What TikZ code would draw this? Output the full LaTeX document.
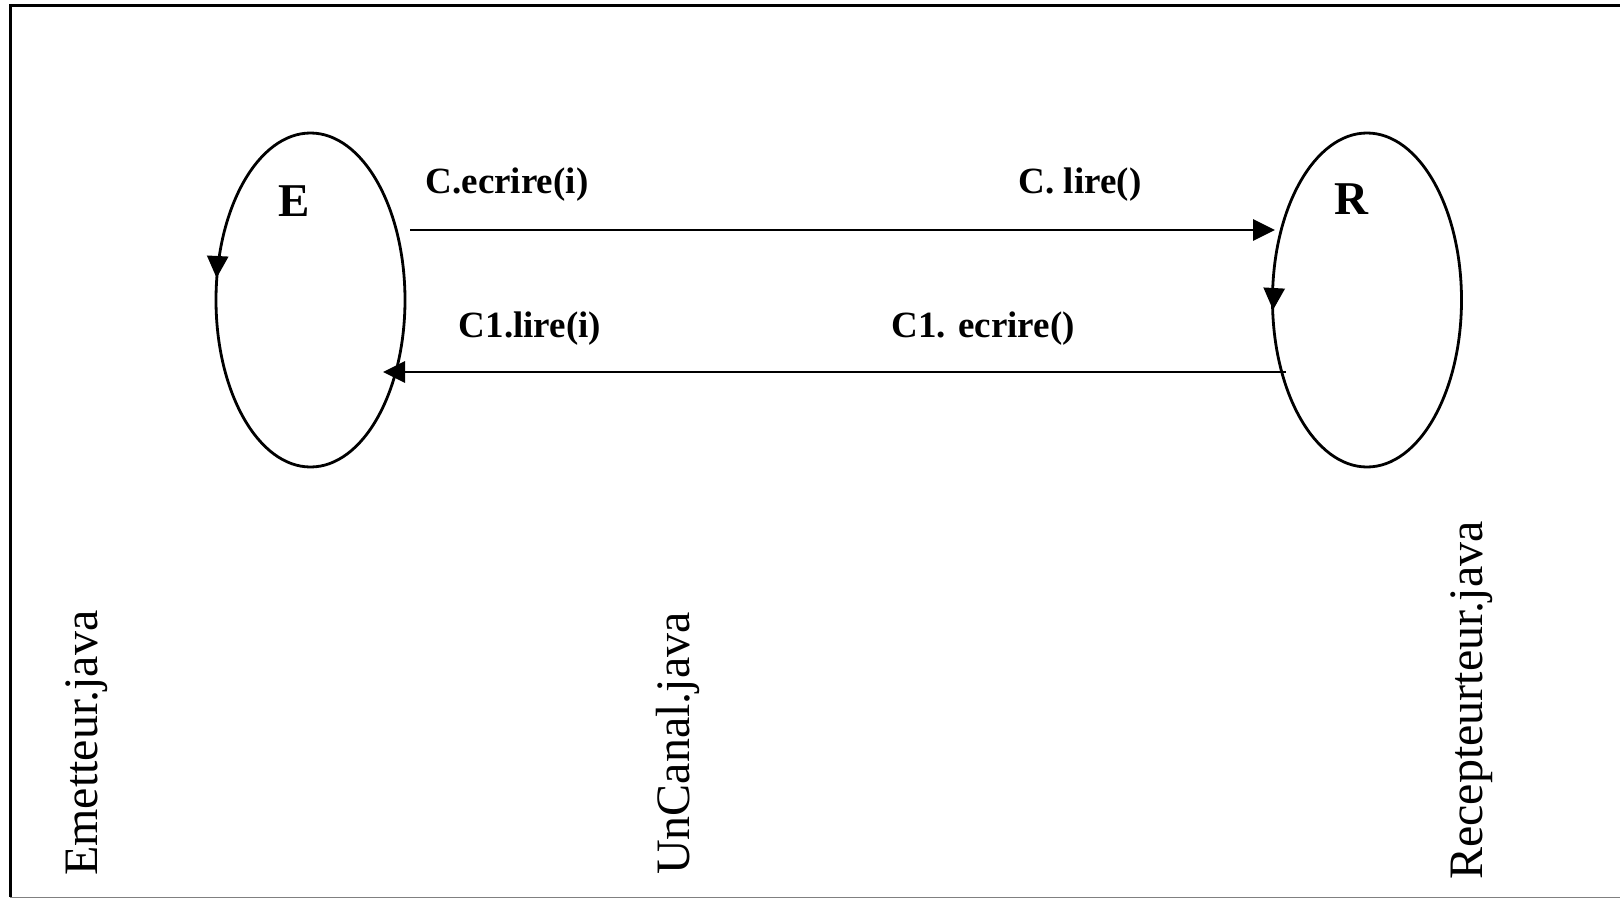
\documentclass[tikz,border=0pt]{standalone}
\usepackage{fontspec}
\setmainfont{Liberation Serif}
\usetikzlibrary{shapes.geometric,arrows.meta}
\begin{document}
\begin{tikzpicture}[x=1pt,y=-1pt,
  proc/.style={draw,line width=2.8pt,ellipse,minimum width=189pt,minimum height=334pt,inner sep=0pt},
  msg/.style={line width=2.8pt,-{Triangle[length=22pt,width=21pt]}},
  lbl/.style={font=\fontsize{37}{40}\selectfont\bfseries,anchor=base,inner sep=0pt},
  big/.style={font=\fontsize{47}{52}\selectfont\bfseries,inner sep=0pt},
  file/.style={font=\fontsize{48}{54}\selectfont,rotate=90,anchor=base west,inner sep=0pt}]
\useasboundingbox (0,0) rectangle (1620,899);
\fill[white] (0,0) rectangle (1620,899);
% frame
\draw[line width=3pt] (1620,5.5) -- (10,5.5) -- (10,897);
\draw[line width=1.5pt,gray] (10,897.5) -- (1620,897.5);
% processes
\node[proc] (E) at (310.5,300) {};
\node[proc] (R) at (1367,300) {};
\node[big] (Elbl) at (294,201) {E};
\node[big] (Rlbl) at (1351,199) {R};
% loop arrowheads
\coordinate (Ea) at (217.6,258);
\coordinate (Eb) at (216.6,278);
\coordinate (Ra) at (1274.2,288);
\coordinate (Rb) at (1273,310);
\draw[msg] (Ea) -- (Eb);
\draw[msg] (Ra) -- (Rb);
% messages
\coordinate (m1s) at (410,230);
\coordinate (m1e) at (1275,230);
\coordinate (m2s) at (1286,372);
\coordinate (m2e) at (383,372);
\draw[msg] (m1s) -- (m1e);
\draw[msg] (m2s) -- (m2e);
\node[lbl] (l1) at (507,193) {C.ecrire(i)};
\node[lbl] (l2) at (1080,193) {C. lire()};
\node[lbl] (l3) at (530,337) {C1.lire(i)};
\node[lbl] (l4) at (983,337) {C1. ecrire()};
% file names
\node[file] (f1) at (97,876) {Emetteur.java};
\node[file] (f2) at (689,875) {UnCanal.java};
\node[file] (f3) at (1482,880) {Recepteurteur.java};
\end{tikzpicture}
\end{document}
